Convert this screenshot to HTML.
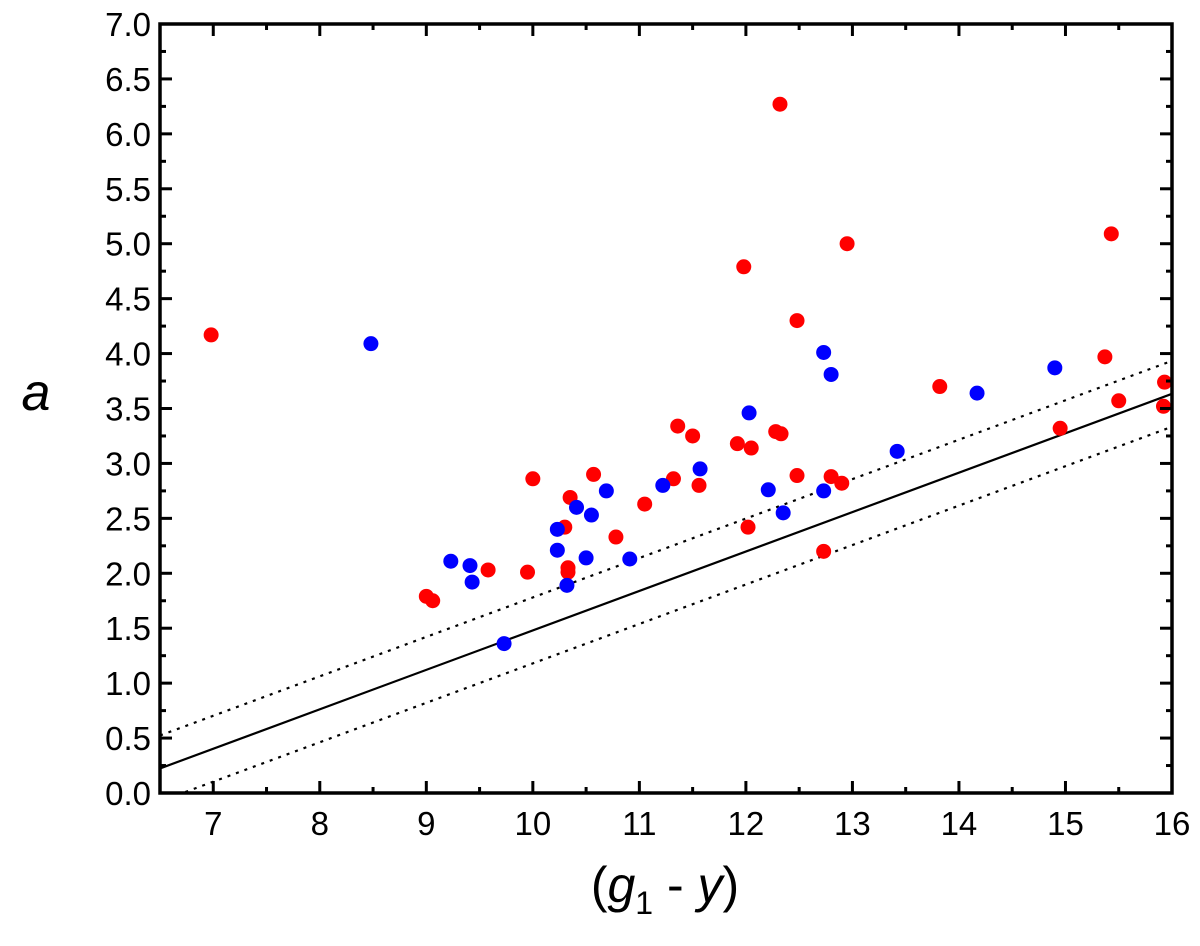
<!DOCTYPE html>
<html><head><meta charset="utf-8"><style>
html,body{margin:0;padding:0;background:#fff;}
svg{display:block;font-family:"Liberation Sans",Arial,sans-serif;}
</style></head><body>
<svg id="chart" width="1200" height="946" viewBox="0 0 1200 946"></svg>
<script>
const xTicks=[7,8,9,10,11,12,13,14,15,16];
const yTicks=[0.0,0.5,1.0,1.5,2.0,2.5,3.0,3.5,4.0,4.5,5.0,5.5,6.0,6.5,7.0];
const redX=[6.98,9.0,9.06,9.58,9.95,10.0,10.3,10.33,10.33,10.35,10.57,10.78,11.05,11.32,11.36,11.5,11.56,11.92,11.98,12.02,12.05,12.28,12.33,12.32,12.48,12.48,12.73,12.8,12.9,12.95,13.82,14.95,15.37,15.43,15.5,15.93,15.92];
const redY=[4.17,1.79,1.75,2.03,2.01,2.86,2.42,2.05,2.01,2.69,2.90,2.33,2.63,2.86,3.34,3.25,2.80,3.18,4.79,2.42,3.14,3.29,3.27,6.27,4.30,2.89,2.20,2.88,2.82,5.00,3.70,3.32,3.97,5.09,3.57,3.74,3.52];
const blueX=[8.48,9.23,9.41,9.43,9.73,10.23,10.23,10.32,10.41,10.5,10.55,10.69,10.91,11.22,11.57,12.03,12.21,12.35,12.73,12.73,12.8,13.42,14.17,14.9];
const blueY=[4.09,2.11,2.07,1.92,1.36,2.40,2.21,1.89,2.60,2.14,2.53,2.75,2.13,2.80,2.95,3.46,2.76,2.55,4.01,2.75,3.81,3.11,3.64,3.87];
const fitIntercept=-2.11, fitSlope=0.359, band=0.3;

const L=160,R=1172,T=24,B=793,X0=6.5,X1=16,Y0=0,Y1=7;
const sx=v=>L+(v-X0)/(X1-X0)*(R-L);
const sy=v=>B-(v-Y0)/(Y1-Y0)*(B-T);
const svg=document.getElementById('chart');
const NS='http://www.w3.org/2000/svg';
function mk(t,a,p){const e=document.createElementNS(NS,t);for(const k in a)e.setAttribute(k,a[k]);(p||svg).appendChild(e);return e;}

const defs=mk('defs',{});
const cp=mk('clipPath',{id:'clip'},defs);
mk('rect',{x:L,y:T,width:R-L,height:B-T},cp);

const lg=mk('g',{'clip-path':'url(#clip)'});
[[0,'none','solid-fit-line'],[band,'3,6','upper-dotted-line'],[-band,'3,6','lower-dotted-line']].forEach(([o,d,n])=>{
  const ln=mk('line',{x1:sx(X0),y1:sy(fitIntercept+fitSlope*X0+o),x2:sx(X1),y2:sy(fitIntercept+fitSlope*X1+o),stroke:'#000','stroke-width':2.2,'stroke-dasharray':d},lg);
  
  
});

redX.forEach((x,i)=>{
  const c=mk('circle',{cx:sx(x),cy:sy(redY[i]),r:7.5,fill:'#f00'});
  
  
});
blueX.forEach((x,i)=>{
  const c=mk('circle',{cx:sx(x),cy:sy(blueY[i]),r:7.5,fill:'#00f'});
  
  
});

const fr=mk('rect',{x:L,y:T,width:R-L,height:B-T,fill:'none',stroke:'#000','stroke-width':3.5});



for(let v=X0;v<=X1+1e-9;v+=0.5){
  const maj=Math.abs(v-Math.round(v))<1e-9;const len=maj?12:6;
  mk('line',{x1:sx(v),y1:B,x2:sx(v),y2:B-len,stroke:'#000','stroke-width':3});
  mk('line',{x1:sx(v),y1:T,x2:sx(v),y2:T+len,stroke:'#000','stroke-width':3});
}
xTicks.forEach(v=>{
  const t=mk('text',{x:sx(v),y:B+42,'text-anchor':'middle','font-size':33});
  t.textContent=v;
  
  
});
for(let v=Y0;v<=Y1+1e-9;v+=0.25){
  const maj=Math.abs(v*2-Math.round(v*2))<1e-9;const len=maj?12:6;
  mk('line',{x1:L,y1:sy(v),x2:L+len,y2:sy(v),stroke:'#000','stroke-width':3});
  mk('line',{x1:R,y1:sy(v),x2:R-len,y2:sy(v),stroke:'#000','stroke-width':3});
}
yTicks.forEach(v=>{
  const t=mk('text',{x:L-9,y:sy(v)+12,'text-anchor':'end','font-size':33});
  t.textContent=v.toFixed(1);
  
  
});
</script>
<svg style="position:absolute;left:0;top:0" width="1200" height="946">
<text x="36" y="410" text-anchor="middle" font-size="52" font-style="italic" font-family="Liberation Sans, Arial, sans-serif">a</text>
<text x="665" y="902" text-anchor="middle" font-size="50" font-family="Liberation Sans, Arial, sans-serif">(<tspan font-style="italic">g</tspan><tspan font-size="32" dy="12">1</tspan><tspan dy="-12"> - </tspan><tspan font-style="italic">y</tspan>)</text>
</svg>
</body></html>
